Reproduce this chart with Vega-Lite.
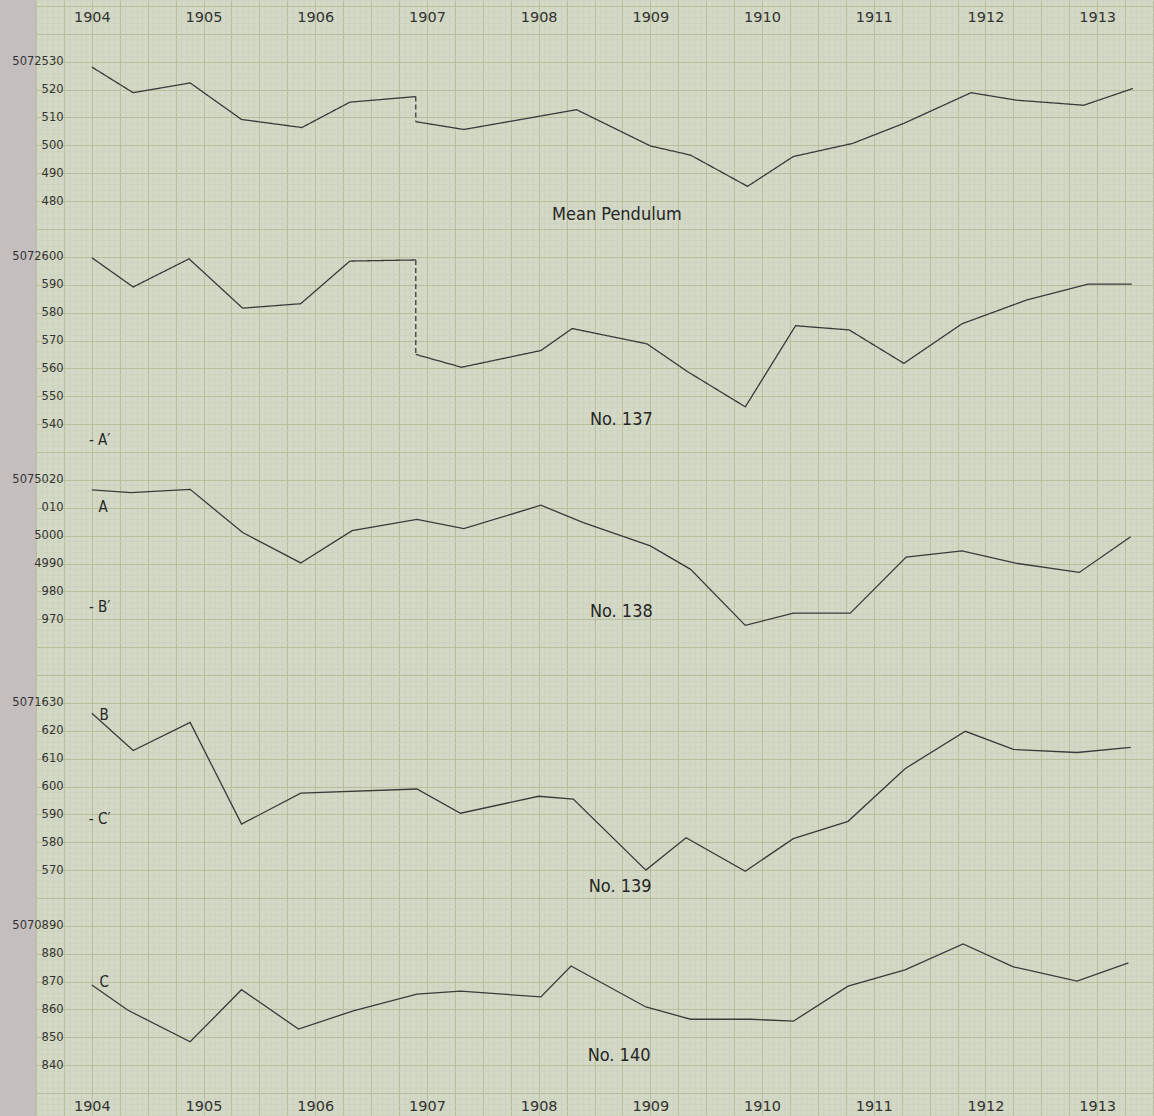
{
  "$schema": "https://vega.github.io/schema/vega-lite/v6.json",
  "background": "#c4bebf",
  "padding": {"left": 11, "top": 0, "right": 0, "bottom": 0},
  "spacing": 0,
  "config": {
    "view": {"fill": "#d4d8c6", "stroke": null},
    "axis": {"domain": false, "ticks": false, "tickSize": 0, "labelPadding": 0}
  },
  "datasets": {
    "mean": [
      {"year": 1904.0, "value": 5072528.1, "seg": "a"},
      {"year": 1904.37, "value": 5072518.9, "seg": "a"},
      {"year": 1904.88, "value": 5072522.4, "seg": "a"},
      {"year": 1905.34, "value": 5072509.3, "seg": "a"},
      {"year": 1905.88, "value": 5072506.4, "seg": "a"},
      {"year": 1906.31, "value": 5072515.5, "seg": "a"},
      {"year": 1906.9, "value": 5072517.5, "seg": "a"},
      {"year": 1906.9, "value": 5072517.5, "seg": "b"},
      {"year": 1906.9, "value": 5072508.5, "seg": "b"},
      {"year": 1906.9, "value": 5072508.5, "seg": "c"},
      {"year": 1907.33, "value": 5072505.7, "seg": "c"},
      {"year": 1908.34, "value": 5072512.8, "seg": "c"},
      {"year": 1909.0, "value": 5072499.8, "seg": "c"},
      {"year": 1909.36, "value": 5072496.5, "seg": "c"},
      {"year": 1909.87, "value": 5072485.3, "seg": "c"},
      {"year": 1910.28, "value": 5072496.0, "seg": "c"},
      {"year": 1910.81, "value": 5072500.7, "seg": "c"},
      {"year": 1911.27, "value": 5072507.9, "seg": "c"},
      {"year": 1911.87, "value": 5072518.9, "seg": "c"},
      {"year": 1912.28, "value": 5072516.2, "seg": "c"},
      {"year": 1912.88, "value": 5072514.4, "seg": "c"},
      {"year": 1913.32, "value": 5072520.4, "seg": "c"}
    ],
    "n137": [
      {"year": 1904.0, "value": 5072599.7, "seg": "a"},
      {"year": 1904.37, "value": 5072589.2, "seg": "a"},
      {"year": 1904.87, "value": 5072599.3, "seg": "a"},
      {"year": 1905.35, "value": 5072581.6, "seg": "a"},
      {"year": 1905.87, "value": 5072583.2, "seg": "a"},
      {"year": 1906.31, "value": 5072598.5, "seg": "a"},
      {"year": 1906.9, "value": 5072598.9, "seg": "a"},
      {"year": 1906.9, "value": 5072598.9, "seg": "b"},
      {"year": 1906.9, "value": 5072565.0, "seg": "b"},
      {"year": 1906.9, "value": 5072565.0, "seg": "c"},
      {"year": 1907.31, "value": 5072560.4, "seg": "c"},
      {"year": 1908.02, "value": 5072566.4, "seg": "c"},
      {"year": 1908.3, "value": 5072574.3, "seg": "c"},
      {"year": 1908.97, "value": 5072568.8, "seg": "c"},
      {"year": 1909.33, "value": 5072558.9, "seg": "c"},
      {"year": 1909.85, "value": 5072546.2, "seg": "c"},
      {"year": 1910.3, "value": 5072575.3, "seg": "c"},
      {"year": 1910.78, "value": 5072573.8, "seg": "c"},
      {"year": 1911.27, "value": 5072561.8, "seg": "c"},
      {"year": 1911.79, "value": 5072576.0, "seg": "c"},
      {"year": 1912.36, "value": 5072584.4, "seg": "c"},
      {"year": 1912.92, "value": 5072590.2, "seg": "c"},
      {"year": 1913.31, "value": 5072590.2, "seg": "c"}
    ],
    "n138": [
      {"year": 1904.0, "value": 5075016.4, "seg": "a"},
      {"year": 1904.35, "value": 5075015.4, "seg": "a"},
      {"year": 1904.88, "value": 5075016.6, "seg": "a"},
      {"year": 1905.35, "value": 5075001.1, "seg": "a"},
      {"year": 1905.87, "value": 5074990.2, "seg": "a"},
      {"year": 1906.33, "value": 5075001.8, "seg": "a"},
      {"year": 1906.91, "value": 5075005.8, "seg": "a"},
      {"year": 1907.33, "value": 5075002.5, "seg": "a"},
      {"year": 1908.02, "value": 5075010.9, "seg": "a"},
      {"year": 1908.4, "value": 5075004.7, "seg": "a"},
      {"year": 1909.0, "value": 5074996.3, "seg": "a"},
      {"year": 1909.36, "value": 5074987.9, "seg": "a"},
      {"year": 1909.85, "value": 5074967.8, "seg": "a"},
      {"year": 1910.28, "value": 5074972.2, "seg": "a"},
      {"year": 1910.79, "value": 5074972.2, "seg": "a"},
      {"year": 1911.29, "value": 5074992.3, "seg": "a"},
      {"year": 1911.79, "value": 5074994.5, "seg": "a"},
      {"year": 1912.27, "value": 5074990.1, "seg": "a"},
      {"year": 1912.84, "value": 5074986.8, "seg": "a"},
      {"year": 1913.3, "value": 5074999.6, "seg": "a"}
    ],
    "n139": [
      {"year": 1904.0, "value": 5071626.3, "seg": "a"},
      {"year": 1904.37, "value": 5071612.9, "seg": "a"},
      {"year": 1904.88, "value": 5071623.0, "seg": "a"},
      {"year": 1905.34, "value": 5071586.5, "seg": "a"},
      {"year": 1905.87, "value": 5071597.6, "seg": "a"},
      {"year": 1906.91, "value": 5071599.1, "seg": "a"},
      {"year": 1907.3, "value": 5071590.4, "seg": "a"},
      {"year": 1908.0, "value": 5071596.5, "seg": "a"},
      {"year": 1908.31, "value": 5071595.5, "seg": "a"},
      {"year": 1908.96, "value": 5071570.0, "seg": "a"},
      {"year": 1909.32, "value": 5071581.6, "seg": "a"},
      {"year": 1909.85, "value": 5071569.6, "seg": "a"},
      {"year": 1910.28, "value": 5071581.3, "seg": "a"},
      {"year": 1910.77, "value": 5071587.5, "seg": "a"},
      {"year": 1911.28, "value": 5071606.4, "seg": "a"},
      {"year": 1911.82, "value": 5071619.8, "seg": "a"},
      {"year": 1912.25, "value": 5071613.3, "seg": "a"},
      {"year": 1912.82, "value": 5071612.2, "seg": "a"},
      {"year": 1913.3, "value": 5071614.0, "seg": "a"}
    ],
    "n140": [
      {"year": 1904.0, "value": 5070868.8, "seg": "a"},
      {"year": 1904.32, "value": 5070859.8, "seg": "a"},
      {"year": 1904.88, "value": 5070848.4, "seg": "a"},
      {"year": 1905.34, "value": 5070867.1, "seg": "a"},
      {"year": 1905.85, "value": 5070853.0, "seg": "a"},
      {"year": 1906.34, "value": 5070859.5, "seg": "a"},
      {"year": 1906.91, "value": 5070865.5, "seg": "a"},
      {"year": 1907.3, "value": 5070866.6, "seg": "a"},
      {"year": 1908.02, "value": 5070864.5, "seg": "a"},
      {"year": 1908.29, "value": 5070875.6, "seg": "a"},
      {"year": 1908.96, "value": 5070860.9, "seg": "a"},
      {"year": 1909.36, "value": 5070856.5, "seg": "a"},
      {"year": 1909.9, "value": 5070856.5, "seg": "a"},
      {"year": 1910.28, "value": 5070855.8, "seg": "a"},
      {"year": 1910.77, "value": 5070868.4, "seg": "a"},
      {"year": 1911.28, "value": 5070874.2, "seg": "a"},
      {"year": 1911.8, "value": 5070883.5, "seg": "a"},
      {"year": 1912.25, "value": 5070875.3, "seg": "a"},
      {"year": 1912.82, "value": 5070870.2, "seg": "a"},
      {"year": 1913.28, "value": 5070876.7, "seg": "a"}
    ],
    "titles": [
      {"panel": 1, "year": 1908.7, "value": 5072475.0, "label": "Mean Pendulum"},
      {"panel": 2, "year": 1908.74, "value": 5072541.4, "label": "No. 137"},
      {"panel": 3, "year": 1908.74, "value": 5074972.5, "label": "No. 138"},
      {"panel": 4, "year": 1908.73, "value": 5071564.0, "label": "No. 139"},
      {"panel": 5, "year": 1908.72, "value": 5070843.4, "label": "No. 140"}
    ],
    "letters": [
      {"panel": 2, "year": 1904.07, "value": 5072534.3, "label": "- A′"},
      {"panel": 3, "year": 1904.1, "value": 5075010.1, "label": "A"},
      {"panel": 3, "year": 1904.07, "value": 5074974.4, "label": "- B′"},
      {"panel": 4, "year": 1904.11, "value": 5071625.6, "label": "B"},
      {"panel": 4, "year": 1904.07, "value": 5071588.5, "label": "- C′"},
      {"panel": 5, "year": 1904.11, "value": 5070869.9, "label": "C"}
    ]
  },
  "vconcat": [
    {
      "width": 1118.35, "height": 229,
      "layer": [
        {"data": {"name": "mean"}, "mark": {"type": "point", "opacity": 0, "size": 1},
         "encoding": {
           "x": {"field": "year", "type": "quantitative", "scale": {"domain": [1903.5, 1913.512], "nice": false, "zero": false},
                 "axis": {"orient": "bottom", "grid": true, "gridColor": "#cbd1b9", "gridWidth": 0.6, "labels": false, "tickCount": 200, "title": null}},
           "y": {"field": "value", "type": "quantitative", "scale": {"domain": [5072470, 5072552.15], "nice": false, "zero": false},
                 "axis": {"orient": "left", "grid": true, "gridColor": "#cbd1b9", "gridWidth": 0.6, "labels": false, "tickCount": 40, "title": null}}}},
        {"data": {"name": "mean"}, "mark": {"type": "point", "opacity": 0, "size": 1},
         "encoding": {
           "x": {"field": "year", "type": "quantitative", "scale": {"domain": [1903.5, 1913.512], "nice": false, "zero": false},
                 "axis": {"orient": "bottom", "grid": true, "gridColor": "#b8bf9a", "gridWidth": 1, "labels": false, "title": null,
                          "values": [1903.5,1903.75,1904,1904.25,1904.5,1904.75,1905,1905.25,1905.5,1905.75,1906,1906.25,1906.5,1906.75,1907,1907.25,1907.5,1907.75,1908,1908.25,1908.5,1908.75,1909,1909.25,1909.5,1909.75,1910,1910.25,1910.5,1910.75,1911,1911.25,1911.5,1911.75,1912,1912.25,1912.5,1912.75,1913,1913.25,1913.5]}},
           "y": {"field": "value", "type": "quantitative", "scale": {"domain": [5072470, 5072552.15], "nice": false, "zero": false},
                 "axis": {"orient": "left", "grid": true, "gridColor": "#b8bf9a", "gridWidth": 1, "labels": false, "title": null, "values": [5072550,5072540,5072530,5072520,5072510,5072500,5072490,5072480]}}}},
        {"data": {"name": "mean"}, "mark": {"type": "line", "color": "#3a3a3a", "strokeWidth": 1.3},
         "encoding": {
           "x": {"field": "year", "type": "quantitative", "scale": {"domain": [1903.5, 1913.512], "nice": false, "zero": false},
                 "axis": {"orient": "top", "offset": -17, "values": [1904,1905,1906,1907,1908,1909,1910,1911,1912,1913], "format": "d", "grid": false, "labelBaseline": "middle", "labelFont": "DejaVu Sans", "labelFontSize": 14.5, "labelColor": "#333333", "labelFlush": false, "labelOverlap": false, "title": null}},
           "y": {"field": "value", "type": "quantitative", "scale": {"domain": [5072470, 5072552.15], "nice": false, "zero": false},
                 "axis": {"orient": "left", "offset": -27, "values": [5072530,5072520,5072510,5072500,5072490,5072480], "labelExpr": "datum.value == 5072530 ? '5072530' : substring(toString(datum.value), 4)", "grid": false, "labelBaseline": "middle", "labelAlign": "right", "labelFont": "DejaVu Sans", "labelFontSize": 11.5, "labelColor": "#333333", "labelOverlap": false, "labelFlush": false, "title": null}},
           "detail": {"field": "seg"},
           "strokeDash": {"field": "seg", "type": "nominal", "scale": {"domain": ["a", "b", "c"], "range": [[1, 0], [5, 3], [1, 0]]}, "legend": null}}},
        {"data": {"name": "titles"}, "transform": [{"filter": "datum.panel == 1"}],
         "mark": {"type": "text", "font": "DejaVu Sans Condensed, Liberation Sans Narrow, Roboto, sans-serif", "fontSize": 18, "color": "#262626", "align": "center", "baseline": "middle"},
         "encoding": {
           "x": {"field": "year", "type": "quantitative", "scale": {"domain": [1903.5, 1913.512], "nice": false, "zero": false}, "axis": null},
           "y": {"field": "value", "type": "quantitative", "scale": {"domain": [5072470, 5072552.15], "nice": false, "zero": false}, "axis": null},
           "text": {"field": "label"}}}
      ],
      "resolve": {"axis": {"x": "independent", "y": "independent"}}
    },
    {
      "width": 1118.35, "height": 223,
      "layer": [
        {"data": {"name": "n137"}, "mark": {"type": "point", "opacity": 0, "size": 1},
         "encoding": {
           "x": {"field": "year", "type": "quantitative", "scale": {"domain": [1903.5, 1913.512], "nice": false, "zero": false},
                 "axis": {"orient": "bottom", "grid": true, "gridColor": "#cbd1b9", "gridWidth": 0.6, "labels": false, "tickCount": 200, "title": null}},
           "y": {"field": "value", "type": "quantitative", "scale": {"domain": [5072530, 5072610], "nice": false, "zero": false},
                 "axis": {"orient": "left", "grid": true, "gridColor": "#cbd1b9", "gridWidth": 0.6, "labels": false, "tickCount": 40, "title": null}}}},
        {"data": {"name": "n137"}, "mark": {"type": "point", "opacity": 0, "size": 1},
         "encoding": {
           "x": {"field": "year", "type": "quantitative", "scale": {"domain": [1903.5, 1913.512], "nice": false, "zero": false},
                 "axis": {"orient": "bottom", "grid": true, "gridColor": "#b8bf9a", "gridWidth": 1, "labels": false, "title": null,
                          "values": [1903.5,1903.75,1904,1904.25,1904.5,1904.75,1905,1905.25,1905.5,1905.75,1906,1906.25,1906.5,1906.75,1907,1907.25,1907.5,1907.75,1908,1908.25,1908.5,1908.75,1909,1909.25,1909.5,1909.75,1910,1910.25,1910.5,1910.75,1911,1911.25,1911.5,1911.75,1912,1912.25,1912.5,1912.75,1913,1913.25,1913.5]}},
           "y": {"field": "value", "type": "quantitative", "scale": {"domain": [5072530, 5072610], "nice": false, "zero": false},
                 "axis": {"orient": "left", "grid": true, "gridColor": "#b8bf9a", "gridWidth": 1, "labels": false, "title": null, "values": [5072610,5072600,5072590,5072580,5072570,5072560,5072550,5072540]}}}},
        {"data": {"name": "n137"}, "mark": {"type": "line", "color": "#3a3a3a", "strokeWidth": 1.3},
         "encoding": {
           "x": {"field": "year", "type": "quantitative", "scale": {"domain": [1903.5, 1913.512], "nice": false, "zero": false}, "axis": null},
           "y": {"field": "value", "type": "quantitative", "scale": {"domain": [5072530, 5072610], "nice": false, "zero": false},
                 "axis": {"orient": "left", "offset": -27, "values": [5072600,5072590,5072580,5072570,5072560,5072550,5072540], "labelExpr": "datum.value == 5072600 ? '5072600' : substring(toString(datum.value), 4)", "grid": false, "labelBaseline": "middle", "labelAlign": "right", "labelFont": "DejaVu Sans", "labelFontSize": 11.5, "labelColor": "#333333", "labelOverlap": false, "labelFlush": false, "title": null}},
           "detail": {"field": "seg"},
           "strokeDash": {"field": "seg", "type": "nominal", "scale": {"domain": ["a", "b", "c"], "range": [[1, 0], [5, 3], [1, 0]]}, "legend": null}}},
        {"data": {"name": "titles"}, "transform": [{"filter": "datum.panel == 2"}],
         "mark": {"type": "text", "font": "DejaVu Sans Condensed, Liberation Sans Narrow, Roboto, sans-serif", "fontSize": 18, "color": "#262626", "align": "center", "baseline": "middle"},
         "encoding": {
           "x": {"field": "year", "type": "quantitative", "scale": {"domain": [1903.5, 1913.512], "nice": false, "zero": false}, "axis": null},
           "y": {"field": "value", "type": "quantitative", "scale": {"domain": [5072530, 5072610], "nice": false, "zero": false}, "axis": null},
           "text": {"field": "label"}}},
        {"data": {"name": "letters"}, "transform": [{"filter": "datum.panel == 2"}],
         "mark": {"type": "text", "font": "DejaVu Sans Condensed, Liberation Sans Narrow, Roboto, sans-serif", "fontSize": 15, "color": "#262626", "align": "center", "baseline": "middle"},
         "encoding": {
           "x": {"field": "year", "type": "quantitative", "scale": {"domain": [1903.5, 1913.512], "nice": false, "zero": false}, "axis": null},
           "y": {"field": "value", "type": "quantitative", "scale": {"domain": [5072530, 5072610], "nice": false, "zero": false}, "axis": null},
           "text": {"field": "label"}}}
      ],
      "resolve": {"axis": {"x": "independent", "y": "independent"}}
    },
    {
      "width": 1118.35, "height": 223,
      "layer": [
        {"data": {"name": "n138"}, "mark": {"type": "point", "opacity": 0, "size": 1},
         "encoding": {
           "x": {"field": "year", "type": "quantitative", "scale": {"domain": [1903.5, 1913.512], "nice": false, "zero": false},
                 "axis": {"orient": "bottom", "grid": true, "gridColor": "#cbd1b9", "gridWidth": 0.6, "labels": false, "tickCount": 200, "title": null}},
           "y": {"field": "value", "type": "quantitative", "scale": {"domain": [5074950, 5075030], "nice": false, "zero": false},
                 "axis": {"orient": "left", "grid": true, "gridColor": "#cbd1b9", "gridWidth": 0.6, "labels": false, "tickCount": 40, "title": null}}}},
        {"data": {"name": "n138"}, "mark": {"type": "point", "opacity": 0, "size": 1},
         "encoding": {
           "x": {"field": "year", "type": "quantitative", "scale": {"domain": [1903.5, 1913.512], "nice": false, "zero": false},
                 "axis": {"orient": "bottom", "grid": true, "gridColor": "#b8bf9a", "gridWidth": 1, "labels": false, "title": null,
                          "values": [1903.5,1903.75,1904,1904.25,1904.5,1904.75,1905,1905.25,1905.5,1905.75,1906,1906.25,1906.5,1906.75,1907,1907.25,1907.5,1907.75,1908,1908.25,1908.5,1908.75,1909,1909.25,1909.5,1909.75,1910,1910.25,1910.5,1910.75,1911,1911.25,1911.5,1911.75,1912,1912.25,1912.5,1912.75,1913,1913.25,1913.5]}},
           "y": {"field": "value", "type": "quantitative", "scale": {"domain": [5074950, 5075030], "nice": false, "zero": false},
                 "axis": {"orient": "left", "grid": true, "gridColor": "#b8bf9a", "gridWidth": 1, "labels": false, "title": null, "values": [5075030,5075020,5075010,5075000,5074990,5074980,5074970,5074960]}}}},
        {"data": {"name": "n138"}, "mark": {"type": "line", "color": "#3a3a3a", "strokeWidth": 1.3},
         "encoding": {
           "x": {"field": "year", "type": "quantitative", "scale": {"domain": [1903.5, 1913.512], "nice": false, "zero": false}, "axis": null},
           "y": {"field": "value", "type": "quantitative", "scale": {"domain": [5074950, 5075030], "nice": false, "zero": false},
                 "axis": {"orient": "left", "offset": -27, "values": [5075020,5075010,5075000,5074990,5074980,5074970], "labelExpr": "datum.value == 5075020 ? '5075020' : datum.value == 5075000 ? '5000' : datum.value == 5074990 ? '4990' : substring(toString(datum.value), 4)", "grid": false, "labelBaseline": "middle", "labelAlign": "right", "labelFont": "DejaVu Sans", "labelFontSize": 11.5, "labelColor": "#333333", "labelOverlap": false, "labelFlush": false, "title": null}}}},
        {"data": {"name": "titles"}, "transform": [{"filter": "datum.panel == 3"}],
         "mark": {"type": "text", "font": "DejaVu Sans Condensed, Liberation Sans Narrow, Roboto, sans-serif", "fontSize": 18, "color": "#262626", "align": "center", "baseline": "middle"},
         "encoding": {
           "x": {"field": "year", "type": "quantitative", "scale": {"domain": [1903.5, 1913.512], "nice": false, "zero": false}, "axis": null},
           "y": {"field": "value", "type": "quantitative", "scale": {"domain": [5074950, 5075030], "nice": false, "zero": false}, "axis": null},
           "text": {"field": "label"}}},
        {"data": {"name": "letters"}, "transform": [{"filter": "datum.panel == 3"}],
         "mark": {"type": "text", "font": "DejaVu Sans Condensed, Liberation Sans Narrow, Roboto, sans-serif", "fontSize": 15, "color": "#262626", "align": "center", "baseline": "middle"},
         "encoding": {
           "x": {"field": "year", "type": "quantitative", "scale": {"domain": [1903.5, 1913.512], "nice": false, "zero": false}, "axis": null},
           "y": {"field": "value", "type": "quantitative", "scale": {"domain": [5074950, 5075030], "nice": false, "zero": false}, "axis": null},
           "text": {"field": "label"}}}
      ],
      "resolve": {"axis": {"x": "independent", "y": "independent"}}
    },
    {
      "width": 1118.35, "height": 223,
      "layer": [
        {"data": {"name": "n139"}, "mark": {"type": "point", "opacity": 0, "size": 1},
         "encoding": {
           "x": {"field": "year", "type": "quantitative", "scale": {"domain": [1903.5, 1913.512], "nice": false, "zero": false},
                 "axis": {"orient": "bottom", "grid": true, "gridColor": "#cbd1b9", "gridWidth": 0.6, "labels": false, "tickCount": 200, "title": null}},
           "y": {"field": "value", "type": "quantitative", "scale": {"domain": [5071560, 5071640], "nice": false, "zero": false},
                 "axis": {"orient": "left", "grid": true, "gridColor": "#cbd1b9", "gridWidth": 0.6, "labels": false, "tickCount": 40, "title": null}}}},
        {"data": {"name": "n139"}, "mark": {"type": "point", "opacity": 0, "size": 1},
         "encoding": {
           "x": {"field": "year", "type": "quantitative", "scale": {"domain": [1903.5, 1913.512], "nice": false, "zero": false},
                 "axis": {"orient": "bottom", "grid": true, "gridColor": "#b8bf9a", "gridWidth": 1, "labels": false, "title": null,
                          "values": [1903.5,1903.75,1904,1904.25,1904.5,1904.75,1905,1905.25,1905.5,1905.75,1906,1906.25,1906.5,1906.75,1907,1907.25,1907.5,1907.75,1908,1908.25,1908.5,1908.75,1909,1909.25,1909.5,1909.75,1910,1910.25,1910.5,1910.75,1911,1911.25,1911.5,1911.75,1912,1912.25,1912.5,1912.75,1913,1913.25,1913.5]}},
           "y": {"field": "value", "type": "quantitative", "scale": {"domain": [5071560, 5071640], "nice": false, "zero": false},
                 "axis": {"orient": "left", "grid": true, "gridColor": "#b8bf9a", "gridWidth": 1, "labels": false, "title": null, "values": [5071640,5071630,5071620,5071610,5071600,5071590,5071580,5071570]}}}},
        {"data": {"name": "n139"}, "mark": {"type": "line", "color": "#3a3a3a", "strokeWidth": 1.3},
         "encoding": {
           "x": {"field": "year", "type": "quantitative", "scale": {"domain": [1903.5, 1913.512], "nice": false, "zero": false}, "axis": null},
           "y": {"field": "value", "type": "quantitative", "scale": {"domain": [5071560, 5071640], "nice": false, "zero": false},
                 "axis": {"orient": "left", "offset": -27, "values": [5071630,5071620,5071610,5071600,5071590,5071580,5071570], "labelExpr": "datum.value == 5071630 ? '5071630' : substring(toString(datum.value), 4)", "grid": false, "labelBaseline": "middle", "labelAlign": "right", "labelFont": "DejaVu Sans", "labelFontSize": 11.5, "labelColor": "#333333", "labelOverlap": false, "labelFlush": false, "title": null}}}},
        {"data": {"name": "titles"}, "transform": [{"filter": "datum.panel == 4"}],
         "mark": {"type": "text", "font": "DejaVu Sans Condensed, Liberation Sans Narrow, Roboto, sans-serif", "fontSize": 18, "color": "#262626", "align": "center", "baseline": "middle"},
         "encoding": {
           "x": {"field": "year", "type": "quantitative", "scale": {"domain": [1903.5, 1913.512], "nice": false, "zero": false}, "axis": null},
           "y": {"field": "value", "type": "quantitative", "scale": {"domain": [5071560, 5071640], "nice": false, "zero": false}, "axis": null},
           "text": {"field": "label"}}},
        {"data": {"name": "letters"}, "transform": [{"filter": "datum.panel == 4"}],
         "mark": {"type": "text", "font": "DejaVu Sans Condensed, Liberation Sans Narrow, Roboto, sans-serif", "fontSize": 15, "color": "#262626", "align": "center", "baseline": "middle"},
         "encoding": {
           "x": {"field": "year", "type": "quantitative", "scale": {"domain": [1903.5, 1913.512], "nice": false, "zero": false}, "axis": null},
           "y": {"field": "value", "type": "quantitative", "scale": {"domain": [5071560, 5071640], "nice": false, "zero": false}, "axis": null},
           "text": {"field": "label"}}}
      ],
      "resolve": {"axis": {"x": "independent", "y": "independent"}}
    },
    {
      "width": 1118.35, "height": 218,
      "layer": [
        {"data": {"name": "n140"}, "mark": {"type": "point", "opacity": 0, "size": 1},
         "encoding": {
           "x": {"field": "year", "type": "quantitative", "scale": {"domain": [1903.5, 1913.512], "nice": false, "zero": false},
                 "axis": {"orient": "bottom", "grid": true, "gridColor": "#cbd1b9", "gridWidth": 0.6, "labels": false, "tickCount": 200, "title": null}},
           "y": {"field": "value", "type": "quantitative", "scale": {"domain": [5070821.79, 5070900], "nice": false, "zero": false},
                 "axis": {"orient": "left", "grid": true, "gridColor": "#cbd1b9", "gridWidth": 0.6, "labels": false, "tickCount": 40, "title": null}}}},
        {"data": {"name": "n140"}, "mark": {"type": "point", "opacity": 0, "size": 1},
         "encoding": {
           "x": {"field": "year", "type": "quantitative", "scale": {"domain": [1903.5, 1913.512], "nice": false, "zero": false},
                 "axis": {"orient": "bottom", "grid": true, "gridColor": "#b8bf9a", "gridWidth": 1, "labels": false, "title": null,
                          "values": [1903.5,1903.75,1904,1904.25,1904.5,1904.75,1905,1905.25,1905.5,1905.75,1906,1906.25,1906.5,1906.75,1907,1907.25,1907.5,1907.75,1908,1908.25,1908.5,1908.75,1909,1909.25,1909.5,1909.75,1910,1910.25,1910.5,1910.75,1911,1911.25,1911.5,1911.75,1912,1912.25,1912.5,1912.75,1913,1913.25,1913.5]}},
           "y": {"field": "value", "type": "quantitative", "scale": {"domain": [5070821.79, 5070900], "nice": false, "zero": false},
                 "axis": {"orient": "left", "grid": true, "gridColor": "#b8bf9a", "gridWidth": 1, "labels": false, "title": null, "values": [5070900,5070890,5070880,5070870,5070860,5070850,5070840,5070830]}}}},
        {"data": {"name": "n140"}, "mark": {"type": "line", "color": "#3a3a3a", "strokeWidth": 1.3},
         "encoding": {
           "x": {"field": "year", "type": "quantitative", "scale": {"domain": [1903.5, 1913.512], "nice": false, "zero": false},
                 "axis": {"orient": "bottom", "offset": -9, "values": [1904,1905,1906,1907,1908,1909,1910,1911,1912,1913], "format": "d", "grid": false, "labelBaseline": "middle", "labelFont": "DejaVu Sans", "labelFontSize": 14.5, "labelColor": "#333333", "labelFlush": false, "labelOverlap": false, "title": null}},
           "y": {"field": "value", "type": "quantitative", "scale": {"domain": [5070821.79, 5070900], "nice": false, "zero": false},
                 "axis": {"orient": "left", "offset": -27, "values": [5070890,5070880,5070870,5070860,5070850,5070840], "labelExpr": "datum.value == 5070890 ? '5070890' : substring(toString(datum.value), 4)", "grid": false, "labelBaseline": "middle", "labelAlign": "right", "labelFont": "DejaVu Sans", "labelFontSize": 11.5, "labelColor": "#333333", "labelOverlap": false, "labelFlush": false, "title": null}}}},
        {"data": {"name": "titles"}, "transform": [{"filter": "datum.panel == 5"}],
         "mark": {"type": "text", "font": "DejaVu Sans Condensed, Liberation Sans Narrow, Roboto, sans-serif", "fontSize": 18, "color": "#262626", "align": "center", "baseline": "middle"},
         "encoding": {
           "x": {"field": "year", "type": "quantitative", "scale": {"domain": [1903.5, 1913.512], "nice": false, "zero": false}, "axis": null},
           "y": {"field": "value", "type": "quantitative", "scale": {"domain": [5070821.79, 5070900], "nice": false, "zero": false}, "axis": null},
           "text": {"field": "label"}}},
        {"data": {"name": "letters"}, "transform": [{"filter": "datum.panel == 5"}],
         "mark": {"type": "text", "font": "DejaVu Sans Condensed, Liberation Sans Narrow, Roboto, sans-serif", "fontSize": 15, "color": "#262626", "align": "center", "baseline": "middle"},
         "encoding": {
           "x": {"field": "year", "type": "quantitative", "scale": {"domain": [1903.5, 1913.512], "nice": false, "zero": false}, "axis": null},
           "y": {"field": "value", "type": "quantitative", "scale": {"domain": [5070821.79, 5070900], "nice": false, "zero": false}, "axis": null},
           "text": {"field": "label"}}}
      ],
      "resolve": {"axis": {"x": "independent", "y": "independent"}}
    }
  ]
}
